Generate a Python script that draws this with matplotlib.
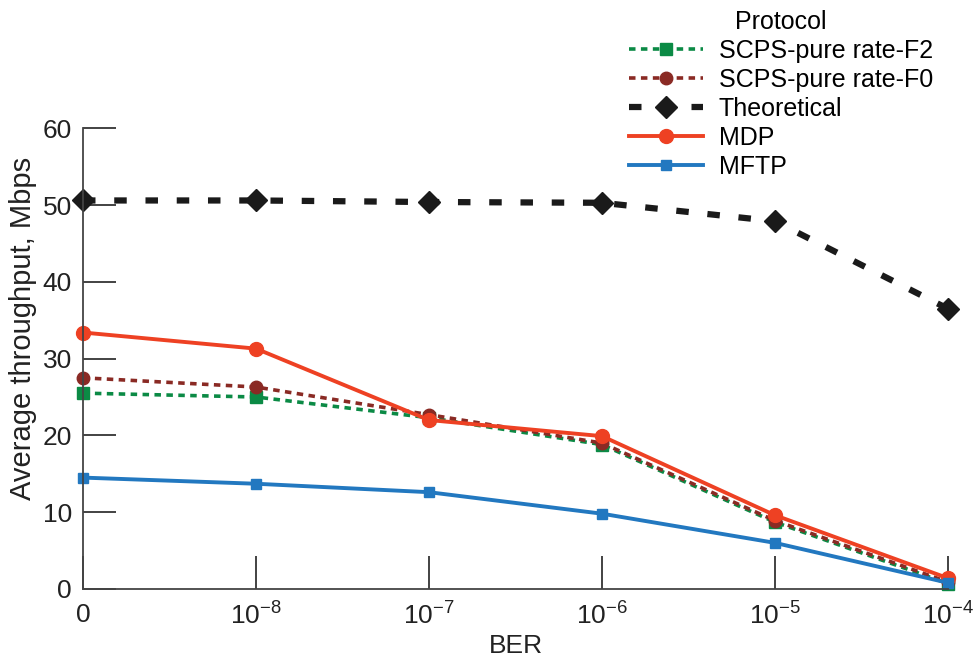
import matplotlib
matplotlib.use("Agg")
import matplotlib.pyplot as plt
import numpy as np

plt.rcParams["font.family"] = ["Liberation Sans", "DejaVu Sans"]
plt.rcParams["mathtext.fontset"] = "custom"
plt.rcParams["mathtext.rm"] = "Liberation Sans"
plt.rcParams["mathtext.it"] = "Liberation Sans"
plt.rcParams["mathtext.default"] = "regular"

# BER categories (evenly spaced on the x axis)
ber_labels = ["0", r"10$^{-8}$", r"10$^{-7}$", r"10$^{-6}$", r"10$^{-5}$", r"10$^{-4}$"]

scps_f2 = [25.5, 25.0, 22.3, 18.8, 8.7, 0.7]
scps_f0 = [27.5, 26.3, 22.7, 19.0, 8.9, 0.9]
theoretical = [50.6, 50.6, 50.4, 50.3, 47.9, 36.5]
mdp = [33.4, 31.3, 22.0, 19.9, 9.6, 1.4]
mftp = [14.5, 13.7, 12.6, 9.8, 6.0, 0.8]

x = np.arange(len(ber_labels))
fs = 19

fig = plt.figure(figsize=(9.74, 6.58), dpi=100)
ax = fig.add_axes([0.0852, 0.105, 0.888, 0.70])

ax.plot(x, scps_f2, color="#0b8a45", linestyle=(0, (1.8, 1.5)), linewidth=2.6,
        marker="s", markersize=9, label="SCPS-pure rate-F2", clip_on=False)
ax.plot(x, scps_f0, color="#8a2a24", linestyle=(0, (1.8, 1.5)), linewidth=2.6,
        marker="o", markersize=9, label="SCPS-pure rate-F0", clip_on=False)
ax.plot(x, theoretical, color="#1a1a1a", linestyle=(0, (2.0, 3.0)), linewidth=4.5,
        marker="D", markersize=11, label="Theoretical", clip_on=False)
ax.plot(x, mdp, color="#ee4123", linewidth=2.8,
        marker="o", markersize=10, label="MDP", clip_on=False)
ax.plot(x, mftp, color="#2278c0", linewidth=2.8,
        marker="s", markersize=7, label="MFTP", clip_on=False)

ax.set_xlim(0, 5)
ax.set_ylim(0, 60)
ax.set_xticks(x)
ax.set_xticklabels(ber_labels)
ax.set_yticks(np.arange(0, 61, 10))
ax.tick_params(axis="both", direction="in", length=24, width=1.2,
               labelsize=fs, colors="#222222", pad=8)
ax.tick_params(axis="x", pad=10)
for side in ["top", "right"]:
    ax.spines[side].set_visible(False)
for side in ["left", "bottom"]:
    ax.spines[side].set_color("#444444")
    ax.spines[side].set_linewidth(1.3)

ax.set_xlabel("BER", fontsize=fs, color="#222222", labelpad=3)
ax.set_ylabel("Average throughput, Mbps", fontsize=21, color="#222222")
ax.yaxis.set_label_coords(-0.053, 0.565)

fig.legend(title="Protocol", loc="upper right", bbox_to_anchor=(0.968, 1.0),
           frameon=False, fontsize=18, title_fontsize=18, handlelength=2.95,
           labelspacing=0.2, handletextpad=0.64, borderaxespad=0.0)

fig.savefig("out.png", dpi=100)
